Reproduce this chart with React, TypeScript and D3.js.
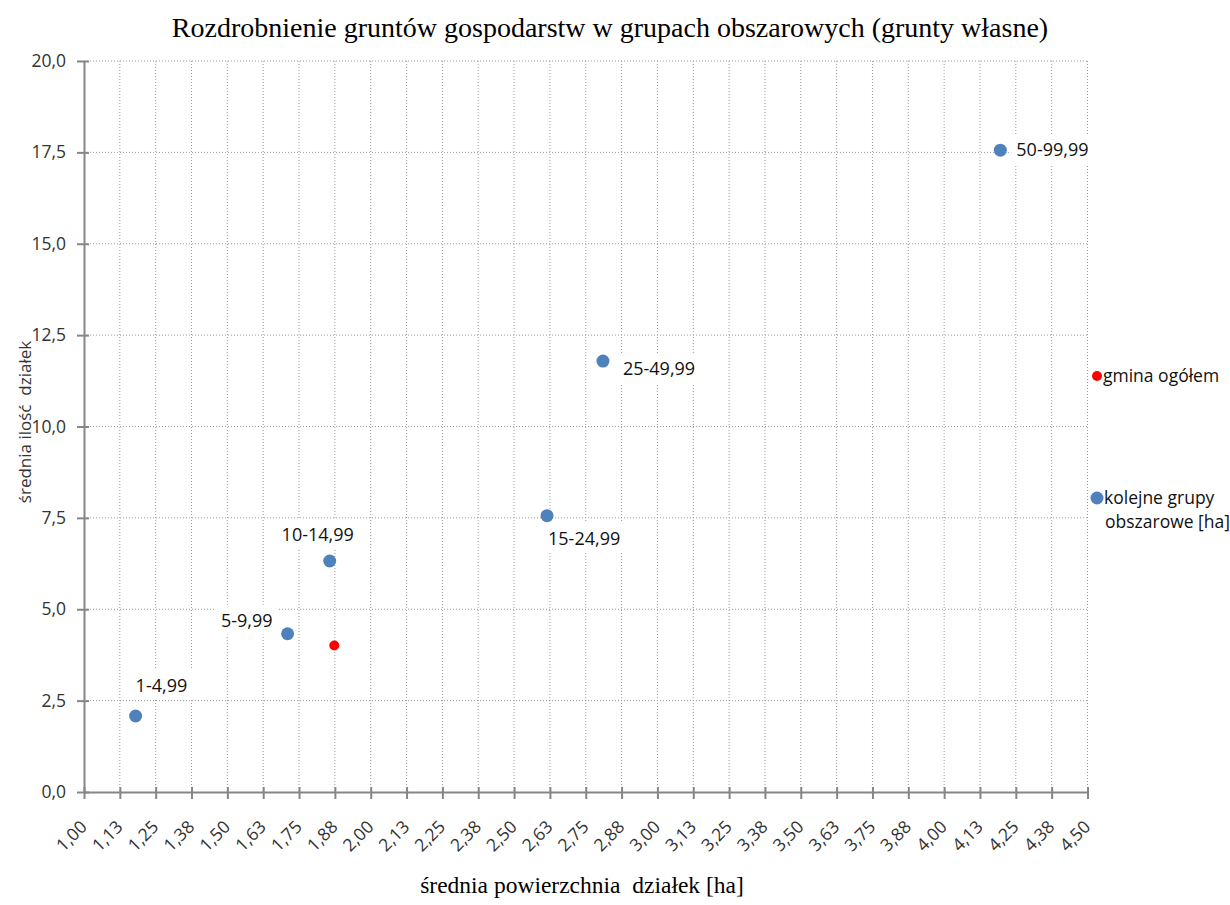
import React, { useEffect, useRef } from "react"
import * as d3 from "d3"

// Data
const groupLabels = ["1-4,99", "5-9,99", "10-14,99", "15-24,99", "25-49,99", "50-99,99"]
const groupArea = [1.18, 1.71, 1.857, 2.615, 2.81, 4.196]
const groupPlots = [2.08, 4.33, 6.32, 7.56, 11.79, 17.56]
const totalArea = [1.873]
const totalPlots = [4.01]
const xTicks = d3.range(0, 29).map(i => 1 + i * 0.125)
const yTicks = [0, 2.5, 5, 7.5, 10, 12.5, 15, 17.5, 20]

// label offsets relative to the point (anchor, dx, dy)
const labelPos: [string, number, number][] = [
  ["start", 0, -24],
  ["end", -15, -7],
  ["middle", -12, -20],
  ["start", 1, 29],
  ["start", 20, 14],
  ["start", 16, 6],
]

const BLUE = "#4F81BD"
const RED = "#FF0000"
const SANS = "'Open Sans', 'Noto Sans', sans-serif"
const SERIF = "'Liberation Serif', 'DejaVu Serif', serif"

export default function App() {
  const ref = useRef<SVGSVGElement>(null)

  useEffect(() => {
    const W = 1230
    const H = 905
    const margin = { top: 61, left: 84, right: 1230 - 1087.5, bottom: 905 - 792 }

    const svg = d3.select(ref.current)
    svg.selectAll("*").remove()
    svg.append("rect").attr("width", W).attr("height", H).attr("fill", "#fff")

    const x = d3.scaleLinear().domain([1, 4.5]).range([margin.left, W - margin.right])
    const y = d3.scaleLinear().domain([0, 20]).range([H - margin.bottom, margin.top])
    const fmt2 = d3.format(".2f")
    const fmt1 = d3.format(".1f")

    // Title
    svg.append("text")
      .attr("x", 610)
      .attr("y", 37)
      .attr("text-anchor", "middle")
      .attr("font-family", SERIF)
      .attr("font-size", 28)
      .attr("fill", "#000")
      .text("Rozdrobnienie gruntów gospodarstw w grupach obszarowych (grunty własne)")

    // Grid
    const grid = svg.append("g")
      .attr("stroke", "#9a9a9a")
      .attr("stroke-width", 1)
      .attr("stroke-dasharray", "1,2")
    grid.selectAll("line.v")
      .data(xTicks.slice(1))
      .enter()
      .append("line")
      .attr("x1", d => x(d))
      .attr("x2", d => x(d))
      .attr("y1", y(20))
      .attr("y2", y(0))
    grid.selectAll("line.h")
      .data(yTicks.slice(1))
      .enter()
      .append("line")
      .attr("x1", x(1))
      .attr("x2", x(4.5))
      .attr("y1", d => y(d))
      .attr("y2", d => y(d))

    // Axes
    const xAxis = svg.append("g")
      .attr("transform", `translate(0, ${y(0)})`)
      .call(d3.axisBottom(x).tickValues(xTicks).tickSizeInner(7).tickSizeOuter(0).tickFormat(() => ""))
    xAxis.selectAll("line").attr("y1", -5)
    const yAxis = svg.append("g")
      .attr("transform", `translate(${x(1)}, 0)`)
      .call(d3.axisLeft(y).tickValues(yTicks).tickSizeInner(7).tickSizeOuter(0).tickFormat(d => fmt1(+d).replace(".", ",")))
    yAxis.selectAll("line").attr("x1", 5)
    svg.selectAll(".domain, .tick line").attr("stroke", "#868686").attr("stroke-width", 2)
    yAxis.selectAll("text")
      .attr("x", -18)
      .attr("font-family", SANS)
      .attr("font-size", 17.5)
      .attr("fill", "#333")

    // x tick labels, rotated
    svg.append("g")
      .selectAll("text")
      .data(xTicks)
      .enter()
      .append("text")
      .attr("transform", d => `translate(${x(d) + 4}, ${y(0) + 36}) rotate(-45)`)
      .attr("text-anchor", "end")
      .attr("font-family", SANS)
      .attr("font-size", 17.5)
      .attr("fill", "#333")
      .text(d => fmt2(d).replace(".", ","))

    // Axis titles
    svg.append("text")
      .attr("x", 582)
      .attr("y", 893)
      .attr("text-anchor", "middle")
      .attr("font-family", SERIF)
      .attr("font-size", 23.5)
      .style("white-space", "pre")
      .text("średnia powierzchnia  działek [ha]")
    svg.append("text")
      .attr("transform", "translate(31, 422) rotate(-90)")
      .attr("text-anchor", "middle")
      .attr("font-family", SANS)
      .attr("font-size", 17)
      .attr("fill", "#333")
      .style("white-space", "pre")
      .text("średnia ilość  działek")

    // Point labels with white boxes
    const labels = svg.append("g")
    groupLabels.forEach((lab, i) => {
      const [anchor, dx, dy] = labelPos[i]
      const t = labels.append("text")
        .attr("x", x(groupArea[i]) + dx)
        .attr("y", y(groupPlots[i]) + dy)
        .attr("text-anchor", anchor)
        .attr("font-family", SANS)
        .attr("font-size", 18)
        .attr("fill", "#111")
        .text(lab)
      const bb = (t.node() as SVGTextElement).getBBox()
      labels.insert("rect", "text")
        .attr("x", bb.x - 5)
        .attr("y", bb.y - 3)
        .attr("width", bb.width + 10)
        .attr("height", bb.height + 6)
        .attr("fill", "#fff")
    })

    // Points
    svg.append("g")
      .selectAll("circle")
      .data(groupArea)
      .enter()
      .append("circle")
      .attr("cx", d => x(d))
      .attr("cy", (d, i) => y(groupPlots[i]))
      .attr("r", 6.5)
      .attr("fill", BLUE)
    svg.append("g")
      .selectAll("circle")
      .data(totalArea)
      .enter()
      .append("circle")
      .attr("cx", d => x(d))
      .attr("cy", (d, i) => y(totalPlots[i]))
      .attr("r", 5)
      .attr("fill", RED)

    // Legend
    const lg = svg.append("g").attr("font-family", SANS).attr("font-size", 17.5).attr("fill", "#111")
    lg.append("circle").attr("cx", 1097).attr("cy", 376).attr("r", 5).attr("fill", RED)
    lg.append("text").attr("x", 1103).attr("y", 382).text("gmina ogółem")
    lg.append("circle").attr("cx", 1097).attr("cy", 498).attr("r", 6.5).attr("fill", BLUE)
    lg.append("text").attr("x", 1104).attr("y", 504).text("kolejne grupy")
    lg.append("text").attr("x", 1105).attr("y", 528).text("obszarowe [ha]")
  }, [])

  return <svg ref={ref} width={1230} height={905} style={{ position: "absolute", left: 0, top: 0 }} />
}
